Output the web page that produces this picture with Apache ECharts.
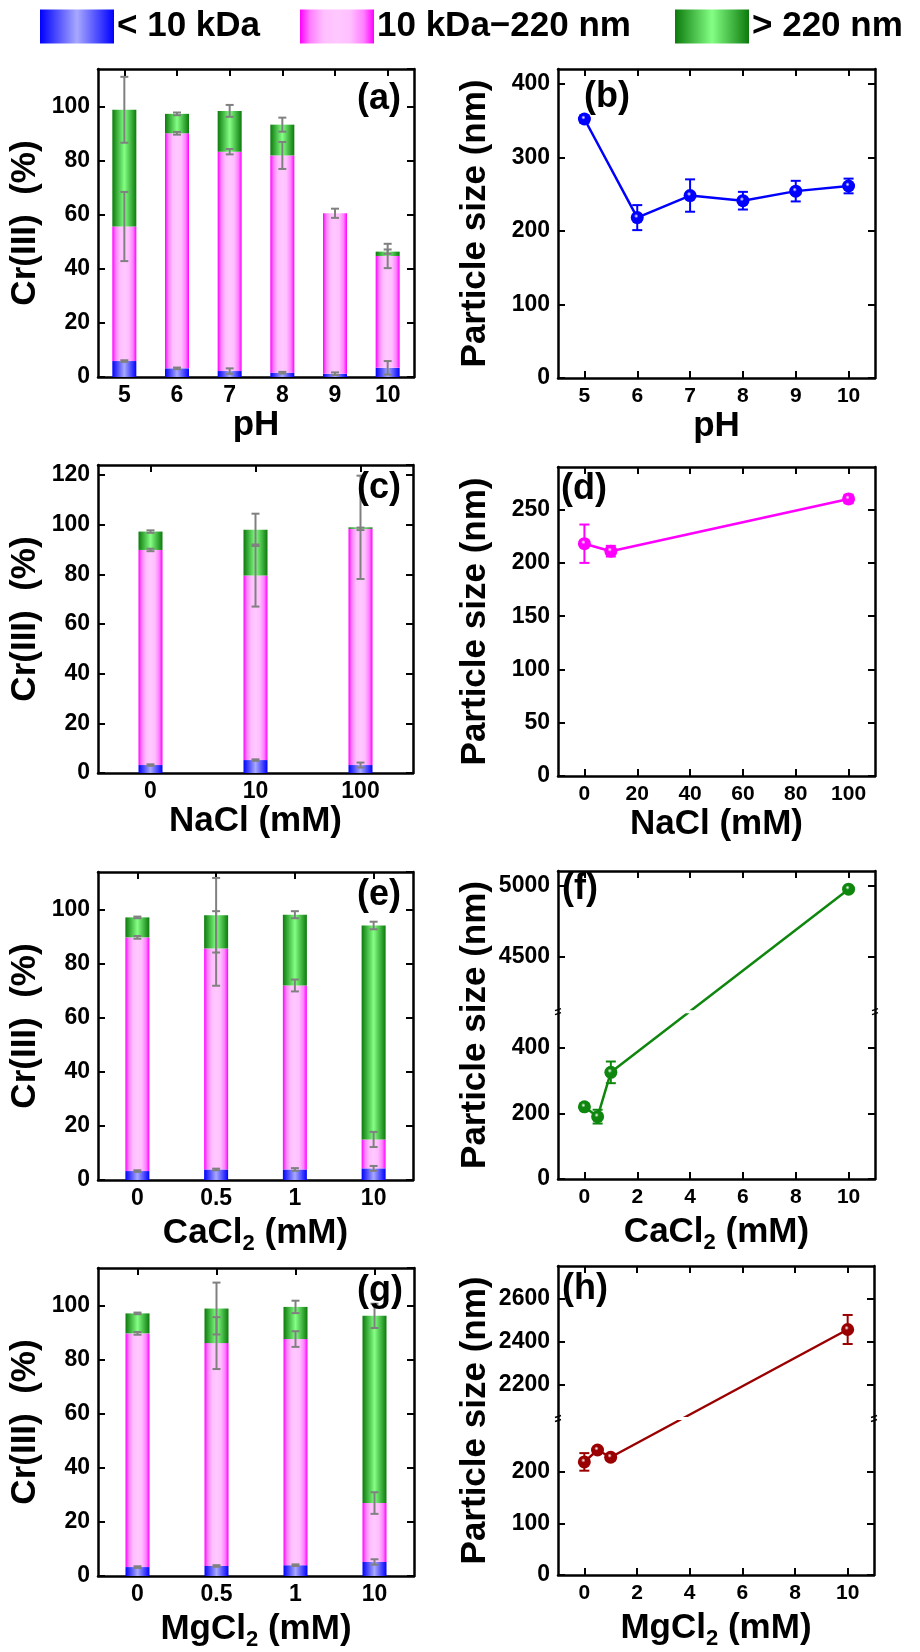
<!DOCTYPE html>
<html>
<head>
<meta charset="utf-8">
<title>Cr(III) size fractions and particle size</title>
<script src="https://cdn.jsdelivr.net/npm/echarts@6/dist/echarts.min.js"></script>
<style>
  html, body { margin: 0; padding: 0; background: #fff; }
  #chart { width: 920px; height: 1652px; }
</style>
</head>
<body>
<div id="chart"></div>
<script>
// ---------- data ----------
const fractionNames = ['< 10 kDa', '10 kDa\u2212220 nm', '> 220 nm'];

// (a) pH, stacked segment heights (%)
const phCats = ['5', '6', '7', '8', '9', '10'];
const phLow = [5.9, 3.2, 2.2, 1.6, 1.2, 3.4];
const phMid = [49.8, 87.0, 81.2, 80.4, 59.4, 41.4];
const phHigh = [43.2, 7.2, 15.1, 11.4, 0, 1.6];
const phLowErr = [0.3, 0.3, 1.0, 0.3, 0.5, 2.5];
const phMidErr = [12.8, 0.5, 1.0, 5.0, 1.7, 4.5];
const phHighErr = [12.2, 0.5, 2.2, 2.6, null, 0.8];

// (c) NaCl
const naclCats = ['0', '10', '100'];
const naclLow = [3.2, 5.2, 3.2];
const naclMid = [86.6, 74.3, 95.1];
const naclHigh = [7.4, 18.4, 0.6];
const naclLowErr = [0.3, 0.3, 1.0];
const naclMidErr = [0.5, 12.5, 0.5];
const naclHighErr = [0.5, 6.5, 20.8];

// (e) CaCl2
const caclCats = ['0', '0.5', '1', '10'];
const caclLow = [3.3, 3.9, 3.9, 4.3];
const caclMid = [86.5, 81.8, 68.1, 10.7];
const caclHigh = [7.4, 12.3, 26.2, 79.2];
const caclLowErr = [0.3, 0.3, 0.5, 0.9];
const caclMidErr = [0.5, 13.8, 2.2, 2.8];
const caclHighErr = [0.3, 13.8, 1.3, 1.4];

// (g) MgCl2
const mgclCats = ['0', '0.5', '1', '10'];
const mgclLow = [3.3, 3.7, 4.0, 5.2];
const mgclMid = [86.5, 82.5, 83.7, 21.8];
const mgclHigh = [7.4, 12.8, 11.9, 69.3];
const mgclLowErr = [0.3, 0.3, 0.3, 1.0];
const mgclMidErr = [0.5, 9.6, 2.9, 4.0];
const mgclHighErr = [0.3, 9.6, 2.3, 4.5];

// particle size (nm)
const phX = [5, 6, 7, 8, 9, 10];
const phSize = [352, 218, 248, 241, 254, 261];
const phSizeErr = [5, 17, 22, 12, 14, 10];

const naclX = [0, 10, 100];
const naclSize = [218, 211, 260];
const naclSizeErr = [18, 5, 4];

const caclX = [0, 0.5, 1, 10];
const caclSize = [220, 190, 325, 4975];
const caclSizeErr = [8, 21, 33, 10];

const mgclX = [0, 0.5, 1, 10];
const mgclSize = [219, 242, 228, 2457];
const mgclSizeErr = [17, 5, 6, 67];

// tick labels
const pctTicks = 20;
const phSizeTicks = [0, 100, 200, 300, 400];
const naclSizeTicks = [0, 50, 100, 150, 200, 250];
const caclSizeTicks = [0, 200, 400, 4500, 5000];
const mgclSizeTicks = [0, 100, 200, 2200, 2400, 2600];
const phXTicks = [5, 6, 7, 8, 9, 10];
const naclXTicks = [0, 20, 40, 60, 80, 100];
const saltXTicks = [0, 2, 4, 6, 8, 10];

// ---------- styles ----------
const FONT = "'Liberation Sans', Arial, Helvetica, sans-serif";
const axisLine = { show: true, onZero: false, lineStyle: { color: '#000', width: 2.5 } };
const tick = { show: true, inside: true, length: 7, lineStyle: { color: '#000', width: 2 } };
const label = { fontFamily: FONT, fontSize: 23, fontWeight: 'bold', color: '#000' };
const nameStyle = { fontFamily: FONT, fontSize: 35, fontWeight: 'bold', color: '#000' };

function hGrad(stops) {
  return { type: 'linear', x: 0, y: 0, x2: 1, y2: 0,
    colorStops: stops.map(s => ({ offset: s[0], color: s[1] })) };
}
const fills = [
  hGrad([[0, '#0000ff'], [0.5, '#a8a8ff'], [1, '#0000ff']]),
  hGrad([[0, '#ff00ff'], [0.14, '#ff80ff'], [0.32, '#ffbfff'], [0.5, '#ffc8ff'], [0.68, '#ffbfff'], [0.86, '#ff80ff'], [1, '#ff00ff']]),
  hGrad([[0, '#0c7a0c'], [0.5, '#84ff84'], [1, '#0c7a0c']])
];

function ball(c) {
  return { type: 'radial', x: 0.42, y: 0.38, r: 0.6,
    colorStops: [{ offset: 0, color: '#ffffff' }, { offset: 0.28, color: c }, { offset: 1, color: c }] };
}

function errRender(capHalf, color) {
  return function (params, api) {
    const x = api.value(0);
    const lo = api.coord([x, api.value(1)]);
    const hi = api.coord([x, api.value(2)]);
    const st = { stroke: color, lineWidth: 2 };
    return { type: 'group', children: [
      { type: 'line', shape: { x1: lo[0], y1: lo[1], x2: hi[0], y2: hi[1] }, style: st },
      { type: 'line', shape: { x1: lo[0] - capHalf, y1: lo[1], x2: lo[0] + capHalf, y2: lo[1] }, style: st },
      { type: 'line', shape: { x1: hi[0] - capHalf, y1: hi[1], x2: hi[0] + capHalf, y2: hi[1] }, style: st }
    ] };
  };
}

// piecewise axis for the broken y scales
function makeBreak(lowTop, highBottom, ratio) {
  return {
    at: lowTop,
    fwd: v => (v <= lowTop ? v : lowTop + (v - highBottom) * ratio),
    inv: m => (m <= lowTop ? m : highBottom + (m - lowTop) / ratio)
  };
}
const noBreak = { at: null, fwd: v => v, inv: v => v };

const grid = [], xAxis = [], yAxis = [], series = [], title = [];

function addPanelBase(box, tag, tagPos) {
  grid.push(Object.assign({ outerBoundsMode: 'none', containLabel: false }, box));
  title.push({ text: tag, left: tagPos[0], top: tagPos[1], padding: 0,
    textStyle: { fontFamily: FONT, fontSize: 36, fontWeight: 'bold', color: '#000' } });
  return grid.length - 1;
}

function barPanel(p) {
  const gi = addPanelBase(p.box, p.tag, p.tagPos);
  const xi = xAxis.length, yi = yAxis.length;
  const catTick = Object.assign({ alignWithLabel: true }, tick);
  xAxis.push({ type: 'category', gridIndex: gi, position: 'bottom', data: p.cats,
    axisLine, axisTick: catTick, axisLabel: Object.assign({ margin: 7 }, label),
    name: p.xName, nameLocation: 'middle', nameGap: 31, nameTextStyle: nameStyle });
  xAxis.push({ type: 'category', gridIndex: gi, position: 'top', data: p.cats,
    axisLine, axisTick: catTick, axisLabel: { show: false } });
  yAxis.push({ type: 'value', gridIndex: gi, position: 'left', min: 0, max: p.yMax, interval: pctTicks,
    axisLine, axisTick: tick, splitLine: { show: false },
    axisLabel: Object.assign({ margin: 8, showMaxLabel: false }, label),
    name: 'Cr(III)  (%)', nameLocation: 'middle', nameGap: 55, nameTextStyle: nameStyle });
  yAxis.push({ type: 'value', gridIndex: gi, position: 'right', min: 0, max: p.yMax, interval: pctTicks,
    axisLine, axisTick: tick, splitLine: { show: false }, axisLabel: { show: false } });
  const cum = p.cats.map(() => 0);
  p.segs.forEach((seg, k) => {
    series.push({ type: 'bar', name: fractionNames[k], xAxisIndex: xi, yAxisIndex: yi,
      stack: 'g' + gi, barWidth: 24, data: seg, itemStyle: { color: fills[k] },
      emphasis: { disabled: true } });
    const errData = [];
    seg.forEach((v, i) => {
      cum[i] += v;
      const e = p.errs[k][i];
      if (e != null) errData.push([i, cum[i] - e, cum[i] + e]);
    });
    series.push({ type: 'custom', xAxisIndex: xi, yAxisIndex: yi, data: errData, z: 5,
      encode: { x: 0, y: [1, 2] }, renderItem: errRender(4, '#808080'), silent: true });
  });
}

function linePanel(p) {
  const gi = addPanelBase(p.box, p.tag, p.tagPos);
  const xi = xAxis.length, yi = yAxis.length;
  const br = p.brk || noBreak;
  const xTick = Object.assign({ customValues: p.xTicks }, tick);
  xAxis.push({ type: 'value', gridIndex: gi, position: 'bottom', min: p.xMin, max: p.xMax,
    axisLine, axisTick: xTick, splitLine: { show: false },
    axisLabel: Object.assign({ margin: 8, customValues: p.xTicks, formatter: v => String(v) }, label, { fontSize: 21 }),
    name: p.xName, nameLocation: 'middle', nameGap: 31, nameTextStyle: nameStyle });
  xAxis.push({ type: 'value', gridIndex: gi, position: 'top', min: p.xMin, max: p.xMax,
    axisLine, axisTick: xTick, splitLine: { show: false }, axisLabel: { show: false } });
  const yVals = p.yTicks.map(br.fwd);
  const yTick = Object.assign({ customValues: yVals }, tick);
  const yMax = br.fwd(p.yMax);
  yAxis.push({ type: 'value', gridIndex: gi, position: 'left', min: 0, max: yMax,
    axisLine, axisTick: yTick, splitLine: { show: false },
    axisLabel: Object.assign({ margin: 8, customValues: yVals,
      formatter: v => String(Math.round(br.inv(v))) }, label),
    name: 'Particle size (nm)', nameLocation: 'middle', nameGap: 65, nameTextStyle: nameStyle });
  yAxis.push({ type: 'value', gridIndex: gi, position: 'right', min: 0, max: yMax,
    axisLine, axisTick: yTick, splitLine: { show: false }, axisLabel: { show: false } });

  series.push({ type: 'custom', xAxisIndex: xi, yAxisIndex: yi, z: 3, silent: true,
    data: p.x.map((x, i) => [x, br.fwd(p.y[i] - p.err[i]), br.fwd(p.y[i] + p.err[i])]),
    encode: { x: 0, y: [1, 2] }, renderItem: errRender(5, p.color) });
  series.push({ type: 'line', xAxisIndex: xi, yAxisIndex: yi, z: 4,
    data: p.x.map((x, i) => [x, br.fwd(p.y[i])]),
    symbol: 'circle', symbolSize: 13, showSymbol: true,
    lineStyle: { color: p.color, width: 2.5 },
    itemStyle: { color: ball(p.color), borderWidth: 0 },
    emphasis: { disabled: true } });

  if (br.at != null) {
    series.push({ type: 'custom', xAxisIndex: xi, yAxisIndex: yi, z: 10, silent: true,
      data: [[p.xMin, br.at]], encode: { x: 0, y: 1 },
      renderItem: function (params, api) {
        const cs = params.coordSys;
        const y = api.coord([api.value(0), api.value(1)])[1];
        const kids = [{ type: 'rect', shape: { x: cs.x + 2, y: y - 1.5, width: cs.width - 4, height: 3 },
          style: { fill: '#fff' } }];
        [cs.x, cs.x + cs.width].forEach(ex => {
          [-2, 2].forEach(dy => kids.push({ type: 'line',
            shape: { x1: ex - 3, y1: y + dy + 1, x2: ex + 3, y2: y + dy - 1 },
            style: { stroke: '#000', lineWidth: 1.5 } }));
        });
        return { type: 'group', children: kids };
      } });
  }
}

// ---------- panels ----------
barPanel({ box: { left: 98, top: 69, width: 316, height: 308 }, tag: '(a)', tagPos: [357, 81],
  cats: phCats, xName: 'pH', yMax: 114,
  segs: [phLow, phMid, phHigh], errs: [phLowErr, phMidErr, phHighErr] });
linePanel({ box: { left: 558, top: 69, width: 317, height: 309 }, tag: '(b)', tagPos: [584, 79],
  x: phX, y: phSize, err: phSizeErr, color: '#0000ff',
  xMin: 4.5, xMax: 10.5, xTicks: phXTicks, xName: 'pH', yMax: 420, yTicks: phSizeTicks });

barPanel({ box: { left: 98, top: 465, width: 315, height: 308 }, tag: '(c)', tagPos: [357, 470],
  cats: naclCats, xName: 'NaCl (mM)', yMax: 124,
  segs: [naclLow, naclMid, naclHigh], errs: [naclLowErr, naclMidErr, naclHighErr] });
linePanel({ box: { left: 558, top: 467, width: 317, height: 309 }, tag: '(d)', tagPos: [561, 471],
  x: naclX, y: naclSize, err: naclSizeErr, color: '#ff00ff',
  xMin: -10, xMax: 110, xTicks: naclXTicks, xName: 'NaCl (mM)', yMax: 290, yTicks: naclSizeTicks });

barPanel({ box: { left: 98, top: 872, width: 315, height: 308 }, tag: '(e)', tagPos: [357, 877],
  cats: caclCats, xName: '{n|CaCl}{s|2}{n| (mM)}', yMax: 114,
  segs: [caclLow, caclMid, caclHigh], errs: [caclLowErr, caclMidErr, caclHighErr] });
linePanel({ box: { left: 558, top: 871, width: 317, height: 308 }, tag: '(f)', tagPos: [562, 871],
  x: caclX, y: caclSize, err: caclSizeErr, color: '#0f870f',
  xMin: -1, xMax: 11, xTicks: saltXTicks, xName: '{n|CaCl}{s|2}{n| (mM)}',
  yMax: 5103, yTicks: caclSizeTicks, brk: makeBreak(510, 4111, 0.432) });

barPanel({ box: { left: 98, top: 1268, width: 316, height: 308 }, tag: '(g)', tagPos: [357, 1273],
  cats: mgclCats, xName: '{n|MgCl}{s|2}{n| (mM)}', yMax: 114,
  segs: [mgclLow, mgclMid, mgclHigh], errs: [mgclLowErr, mgclMidErr, mgclHighErr] });
linePanel({ box: { left: 558, top: 1266, width: 316, height: 309 }, tag: '(h)', tagPos: [562, 1271],
  x: mgclX, y: mgclSize, err: mgclSizeErr, color: '#9a0000',
  xMin: -1, xMax: 11, xTicks: saltXTicks, xName: '{n|MgCl}{s|2}{n| (mM)}',
  yMax: 2750, yTicks: mgclSizeTicks, brk: makeBreak(303, 2046, 0.4195) });

// subscript support in axis names
const richName = {
  n: { fontFamily: FONT, fontSize: 35, fontWeight: 'bold', color: '#000', lineHeight: 44, verticalAlign: 'middle' },
  s: { fontFamily: FONT, fontSize: 22, fontWeight: 'bold', color: '#000', lineHeight: 22, verticalAlign: 'bottom' }
};
xAxis.forEach(a => { if (a.name) a.nameTextStyle = Object.assign({ rich: richName }, nameStyle); });

const legendLeft = [40, 300, 675];
const legend = fractionNames.map((n, i) => ({
  data: [n], left: legendLeft[i], top: 9, orient: 'horizontal', icon: 'rect',
  itemWidth: 74, itemHeight: 34, selectedMode: false, padding: 0,
  itemStyle: { borderWidth: 0 },
  textStyle: { fontFamily: FONT, fontSize: 35, fontWeight: 'bold', color: '#000', padding: [0, 0, 0, -2] }
}));

const chart = echarts.init(document.getElementById('chart'), null, { renderer: 'canvas' });
chart.setOption({
  animation: false,
  backgroundColor: '#fff',
  title, legend, grid, xAxis, yAxis, series
});
</script>
</body>
</html>
